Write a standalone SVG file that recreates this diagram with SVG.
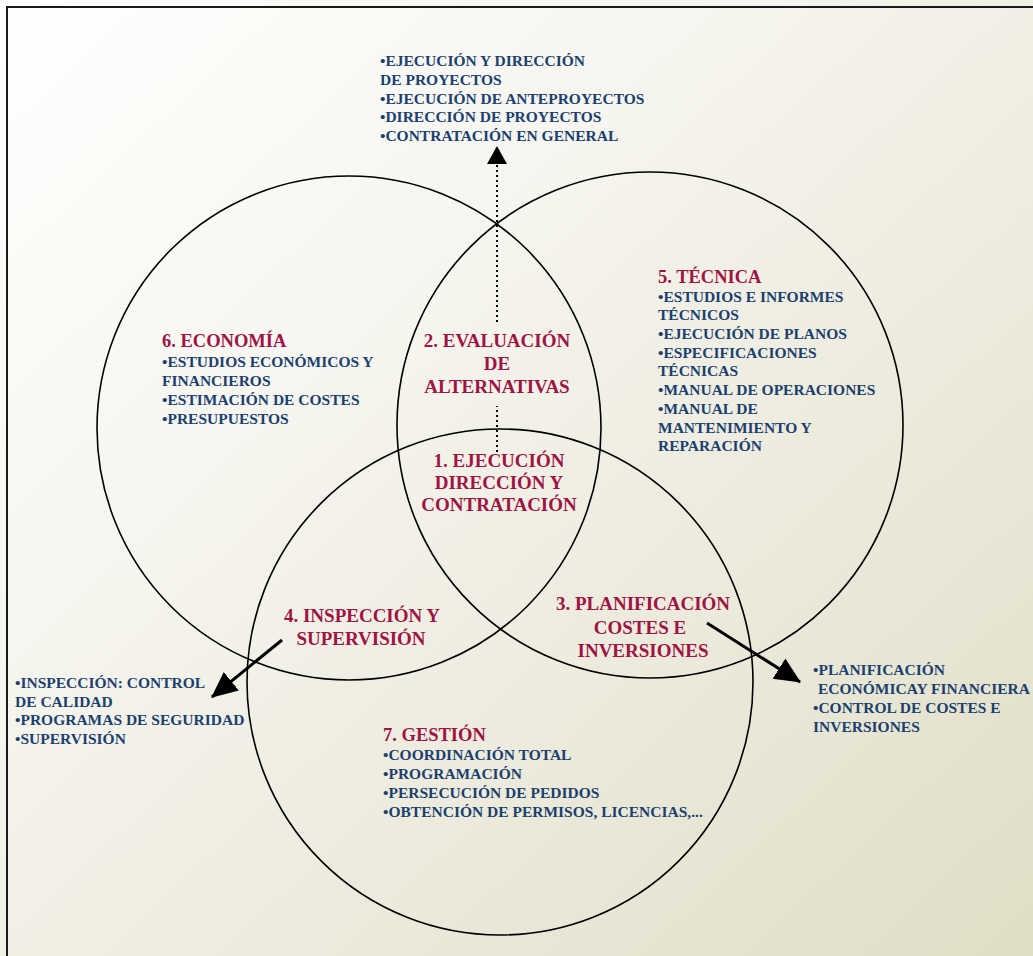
<svg xmlns="http://www.w3.org/2000/svg" width="1033" height="956" viewBox="0 0 1033 956">
<defs>
<linearGradient id="bg" x1="0" y1="0" x2="1" y2="1">
<stop offset="0" stop-color="#ffffff"/>
<stop offset="0.35" stop-color="#f6f5ef"/>
<stop offset="1" stop-color="#e0dec6"/>
</linearGradient>
<marker id="ah" markerUnits="userSpaceOnUse" markerWidth="26" markerHeight="26" viewBox="0 0 24 24" refX="23" refY="12" orient="auto">
<path d="M0,1 L24,12 L0,23 Z" fill="#000"/>
</marker>
<marker id="ahs" markerUnits="userSpaceOnUse" markerWidth="20" markerHeight="20" viewBox="0 0 18 20" refX="17" refY="10" orient="auto">
<path d="M0,0 L18,10 L0,20 Z" fill="#000"/>
</marker>
</defs>
<style>
.circ{fill:none;stroke:#000;stroke-width:1.6}
.lbl{font-family:"Liberation Serif",serif;font-weight:bold;font-size:19px;fill:#9e1444;text-anchor:middle}
.hd{font-family:"Liberation Serif",serif;font-weight:bold;font-size:18.5px;fill:#9e1444}
.it{font-family:"Liberation Serif",serif;font-weight:bold;font-size:15.5px;fill:#1b3f6e}
.arr{fill:none;stroke:#000;stroke-width:3}
.dot{fill:none;stroke:#000;stroke-width:2;stroke-dasharray:2 3}
</style>
<rect x="0" y="0" width="1033" height="956" fill="url(#bg)"/>
<rect x="7" y="7" width="1100" height="1000" fill="none" stroke="#1a1a1a" stroke-width="2"/>

<g id="circle-economia"><circle class="circ" cx="349" cy="428" r="252"/></g>
<g id="circle-tecnica"><circle class="circ" cx="650" cy="425" r="253"/></g>
<g id="circle-gestion"><circle class="circ" cx="500" cy="682" r="253"/></g>

<g id="connectors">
<path class="dot" d="M497,452 L497,406"/>
<path class="dot" d="M497,322 L497,147" marker-end="url(#ahs)"/>
<path class="arr" d="M282,640 L212,697" marker-end="url(#ah)"/>
<path class="arr" d="M707,623 L800,682" marker-end="url(#ah)"/>
</g>

<g id="node-top-list">
<text class="it" x="380" y="66">•EJECUCIÓN Y DIRECCIÓN</text>
<text class="it" x="380" y="85">DE PROYECTOS</text>
<text class="it" x="380" y="104">•EJECUCIÓN DE ANTEPROYECTOS</text>
<text class="it" x="380" y="122">•DIRECCIÓN DE PROYECTOS</text>
<text class="it" x="380" y="141">•CONTRATACIÓN EN GENERAL</text>
</g>

<g id="node-economia">
<text class="hd" x="162" y="347">6. ECONOMÍA</text>
<text class="it" x="162" y="367">•ESTUDIOS ECONÓMICOS Y</text>
<text class="it" x="162" y="386">FINANCIEROS</text>
<text class="it" x="162" y="405">•ESTIMACIÓN DE COSTES</text>
<text class="it" x="162" y="424">•PRESUPUESTOS</text>
</g>

<g id="node-tecnica">
<text class="hd" x="658" y="283">5. TÉCNICA</text>
<text class="it" x="658" y="302">•ESTUDIOS E INFORMES</text>
<text class="it" x="658" y="320">TÉCNICOS</text>
<text class="it" x="658" y="339">•EJECUCIÓN DE PLANOS</text>
<text class="it" x="658" y="358">•ESPECIFICACIONES</text>
<text class="it" x="658" y="376">TÉCNICAS</text>
<text class="it" x="658" y="395">•MANUAL DE OPERACIONES</text>
<text class="it" x="658" y="414">•MANUAL DE</text>
<text class="it" x="658" y="433">MANTENIMIENTO Y</text>
<text class="it" x="658" y="451">REPARACIÓN</text>
</g>

<g id="node-evaluacion">
<text class="lbl" x="497" y="347">2. EVALUACIÓN</text>
<text class="lbl" x="497" y="370">DE</text>
<text class="lbl" x="497" y="393">ALTERNATIVAS</text>
</g>

<g id="node-ejecucion">
<text class="lbl" x="499" y="467">1. EJECUCIÓN</text>
<text class="lbl" x="499" y="489">DIRECCIÓN Y</text>
<text class="lbl" x="499" y="511">CONTRATACIÓN</text>
</g>

<g id="node-inspeccion">
<text class="lbl" x="362" y="622">4. INSPECCIÓN Y</text>
<text class="lbl" x="361" y="645">SUPERVISIÓN</text>
</g>

<g id="node-planificacion">
<text class="lbl" x="643" y="610">3. PLANIFICACIÓN</text>
<text class="lbl" x="640" y="634">COSTES E</text>
<text class="lbl" x="643" y="657">INVERSIONES</text>
</g>

<g id="node-inspeccion-list">
<text class="it" x="15" y="688">•INSPECCIÓN: CONTROL</text>
<text class="it" x="15" y="707">DE CALIDAD</text>
<text class="it" x="15" y="725">•PROGRAMAS DE SEGURIDAD</text>
<text class="it" x="15" y="744">•SUPERVISIÓN</text>
</g>

<g id="node-planificacion-list">
<text class="it" x="813" y="675">•PLANIFICACIÓN</text>
<text class="it" x="818" y="694">ECONÓMICAY FINANCIERA</text>
<text class="it" x="813" y="713">•CONTROL DE COSTES E</text>
<text class="it" x="813" y="732">INVERSIONES</text>
</g>

<g id="node-gestion">
<text class="hd" x="383" y="741">7. GESTIÓN</text>
<text class="it" x="383" y="760">•COORDINACIÓN TOTAL</text>
<text class="it" x="383" y="779">•PROGRAMACIÓN</text>
<text class="it" x="383" y="798">•PERSECUCIÓN DE PEDIDOS</text>
<text class="it" x="383" y="817">•OBTENCIÓN DE PERMISOS, LICENCIAS,...</text>
</g>
</svg>
